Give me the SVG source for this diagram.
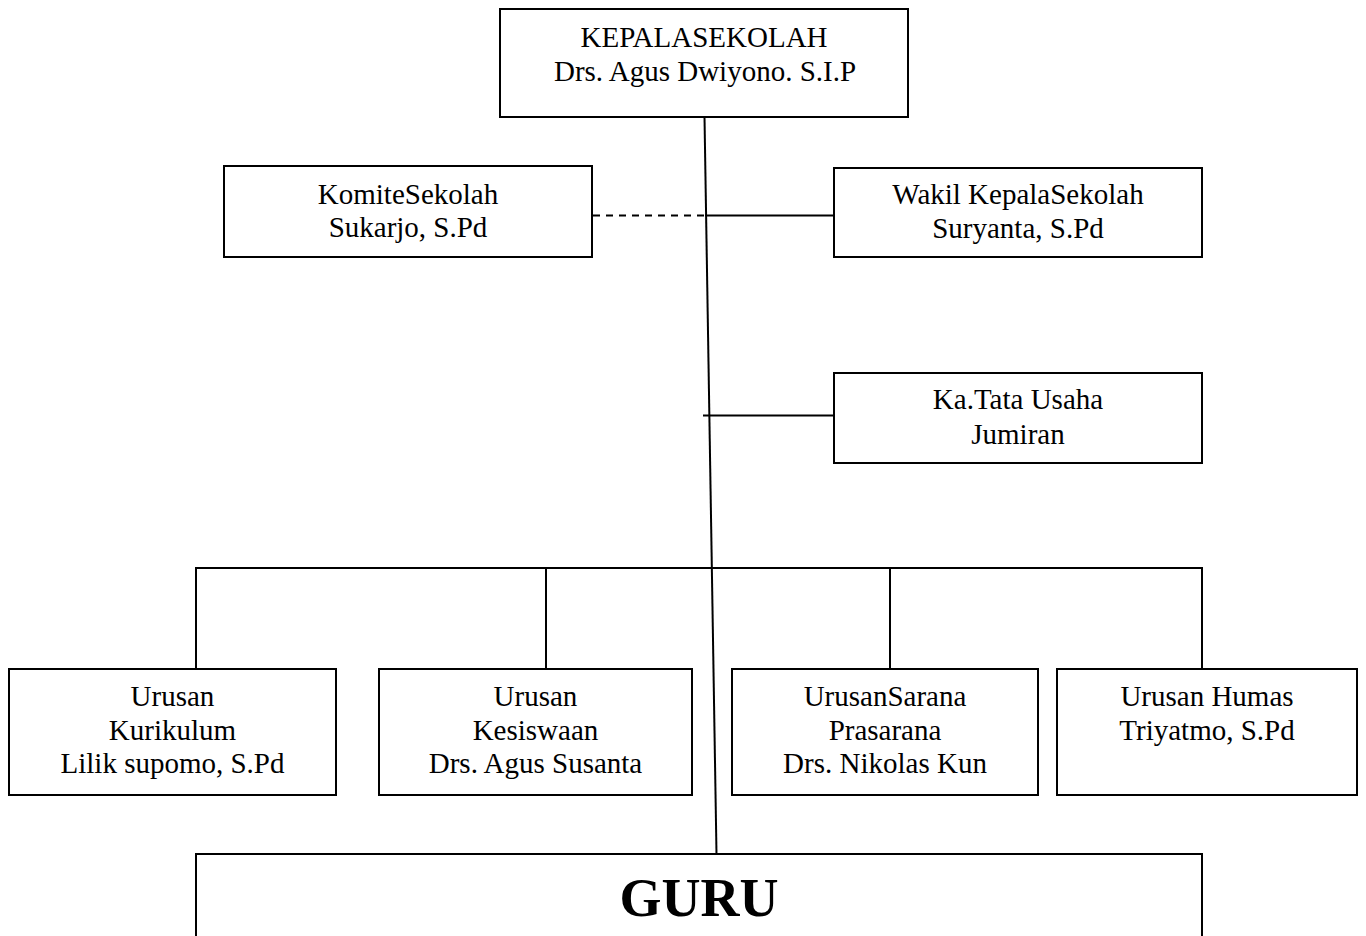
<svg xmlns="http://www.w3.org/2000/svg" width="1366" height="936" viewBox="0 0 1366 936">
<style>
.box{fill:#fff;stroke:#000;stroke-width:2}
.t{font-family:"Liberation Serif","Times New Roman",serif;font-size:29px;fill:#000;text-anchor:middle}
.g{font-family:"Liberation Serif","Times New Roman",serif;font-size:54px;font-weight:bold;fill:#000;text-anchor:middle}
.ln{stroke:#000;stroke-width:2;fill:none}
.ds{stroke:#000;stroke-width:2;fill:none;stroke-dasharray:7 6}
</style>
<rect width="1366" height="936" fill="#fff"/>
<g id="connectors">
<line class="ln" x1="704.5" y1="117" x2="716.5" y2="854" stroke-width="1.6"/>
<line class="ds" x1="593" y1="215.5" x2="705" y2="215.5"/>
<line class="ln" x1="705" y1="215.5" x2="834" y2="215.5"/>
<line class="ln" x1="703" y1="415.5" x2="834" y2="415.5"/>
<line class="ln" x1="195" y1="568" x2="1203" y2="568"/>
<line class="ln" x1="196" y1="568" x2="196" y2="669"/>
<line class="ln" x1="546" y1="568" x2="546" y2="669"/>
<line class="ln" x1="890" y1="568" x2="890" y2="669"/>
<line class="ln" x1="1202" y1="568" x2="1202" y2="669"/>
</g>
<g id="kepala">
<rect class="box" x="500" y="9" width="408" height="108"/>
<text class="t" x="704" y="47">KEPALASEKOLAH</text>
<text class="t" x="705" y="81">Drs. Agus Dwiyono. S.I.P</text>
</g>
<g id="komite">
<rect class="box" x="224" y="166" width="368" height="91"/>
<text class="t" x="408" y="204">KomiteSekolah</text>
<text class="t" x="408" y="237">Sukarjo, S.Pd</text>
</g>
<g id="wakil">
<rect class="box" x="834" y="168" width="368" height="89"/>
<text class="t" x="1018" y="204">Wakil KepalaSekolah</text>
<text class="t" x="1018" y="238">Suryanta, S.Pd</text>
</g>
<g id="tatausaha">
<rect class="box" x="834" y="373" width="368" height="90"/>
<text class="t" x="1018" y="409">Ka.Tata Usaha</text>
<text class="t" x="1018" y="444">Jumiran</text>
</g>
<g id="kurikulum">
<rect class="box" x="9" y="669" width="327" height="126"/>
<text class="t" x="172.5" y="706">Urusan</text>
<text class="t" x="172.5" y="740">Kurikulum</text>
<text class="t" x="172.5" y="773">Lilik supomo, S.Pd</text>
</g>
<g id="kesiswaan">
<rect class="box" x="379" y="669" width="313" height="126"/>
<text class="t" x="535.5" y="706">Urusan</text>
<text class="t" x="535.5" y="740">Kesiswaan</text>
<text class="t" x="535.5" y="773">Drs. Agus Susanta</text>
</g>
<g id="sarana">
<rect class="box" x="732" y="669" width="306" height="126"/>
<text class="t" x="885" y="706">UrusanSarana</text>
<text class="t" x="885" y="740">Prasarana</text>
<text class="t" x="885" y="773">Drs. Nikolas Kun</text>
</g>
<g id="humas">
<rect class="box" x="1057" y="669" width="300" height="126"/>
<text class="t" x="1207" y="706">Urusan Humas</text>
<text class="t" x="1207" y="740">Triyatmo, S.Pd</text>
</g>
<g id="guru">
<rect class="box" x="196" y="854" width="1006" height="120"/>
<text class="g" x="699" y="916">GURU</text>
</g>
</svg>
